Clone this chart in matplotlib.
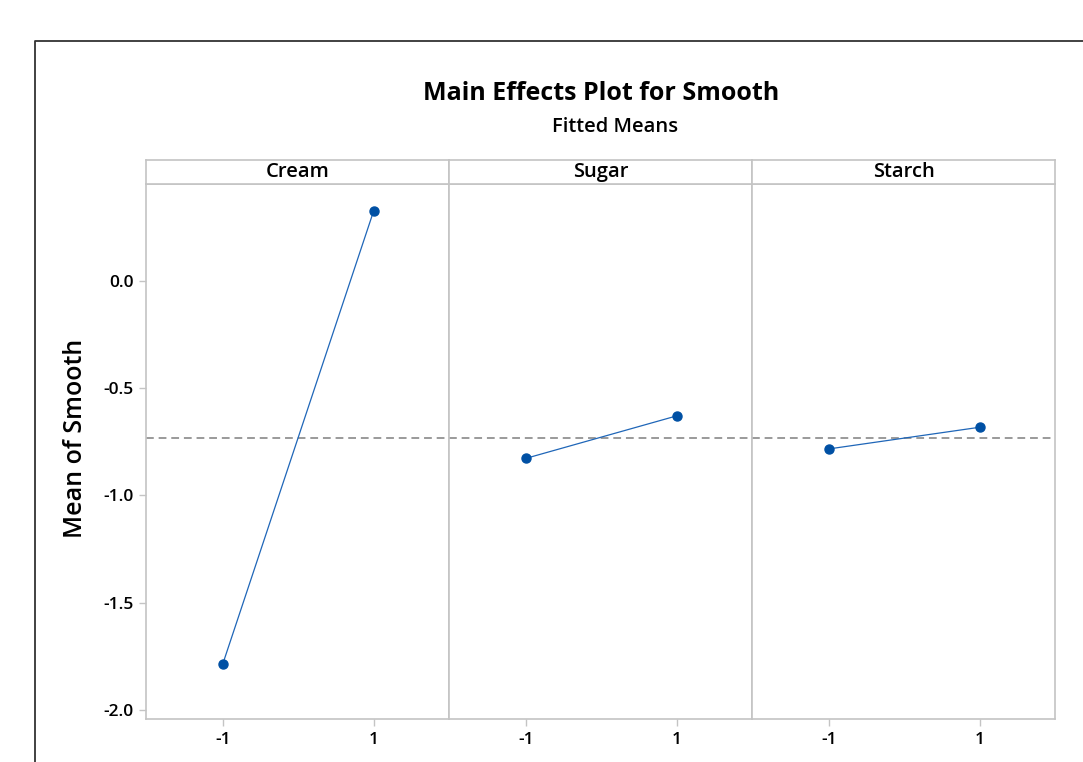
import matplotlib.pyplot as plt
from matplotlib.lines import Line2D

factors = ['Cream', 'Sugar', 'Starch']
levels = [-1, 1]
low_means = [-1.784, -0.827, -0.783]
high_means = [0.326, -0.629, -0.682]
grand_mean = -0.731
y_ticks = [0.0, -0.5, -1.0, -1.5, -2.0]

plt.rcParams['font.family'] = ['Open Sans', 'DejaVu Sans']

W, H = 1083, 762
fig = plt.figure(figsize=(W / 100, H / 100), dpi=100)

# outer frame (only top and left edges are visible)
fig.add_artist(Line2D([35 / W, 35 / W, 1.0], [0.0, 1 - 41 / H, 1 - 41 / H],
                      transform=fig.transFigure, color='#333333', lw=1.3))

fig.text(601 / W, 1 - 94 / H, 'Main Effects Plot for Smooth', ha='center', va='center',
         fontsize=18, fontweight='bold')
fig.text(615 / W, 1 - 127 / H, 'Fitted Means', ha='center', va='center',
         fontsize=14.5, fontweight='semibold')

spine_c = '#c4c4c4'
left, pw = 146, 303
top, bottom, strip_h = 184, 719, 24

axes = []
for i, name in enumerate(factors):
    x0 = (left + i * pw) / W
    ax = fig.add_axes([x0, 1 - bottom / H, pw / W, (bottom - top) / H],
                      sharey=axes[0] if axes else None)
    axes.append(ax)
    ax.plot(levels, [low_means[i], high_means[i]], color='#1f66b8', lw=0.9, zorder=3)
    ax.plot(levels, [low_means[i], high_means[i]], 'o', color='#0050a4', ms=6.5, zorder=4)
    ax.axhline(grand_mean, color='#9a9a9a', lw=1.4, ls=(0, (4, 2.5)), zorder=2)
    ax.set_xlim(-2.02, 2.0)
    ax.set_ylim(-2.042, 0.452)
    ax.set_xticks(levels)
    ax.set_xticklabels([str(v) for v in levels])
    for s in ax.spines.values():
        s.set_color(spine_c)
        s.set_linewidth(1.2)
    ax.tick_params(axis='both', colors=spine_c, labelcolor='black', length=5, width=1,
                   labelsize=12.5, pad=4)
    for lab in ax.get_xticklabels():
        lab.set_fontweight('semibold')
    if i == 0:
        ax.set_yticks(y_ticks)
        ax.set_yticklabels([f'{v:.1f}' for v in y_ticks])
        for lab in ax.get_yticklabels():
            lab.set_fontweight('semibold')
    else:
        ax.tick_params(axis='y', left=False, labelleft=False)

    sax = fig.add_axes([x0, 1 - top / H, pw / W, strip_h / H])
    sax.set_xticks([])
    sax.set_yticks([])
    for s in sax.spines.values():
        s.set_color(spine_c)
        s.set_linewidth(1.2)
    sax.text(0.5, 0.5, name, ha='center', va='center', fontsize=14.5,
             fontweight='semibold', transform=sax.transAxes)

fig.text(76 / W, 1 - 438 / H, 'Mean of Smooth', rotation=90, ha='center', va='center',
         fontsize=18, fontweight='semibold')

fig.savefig('out.png', dpi=100)
